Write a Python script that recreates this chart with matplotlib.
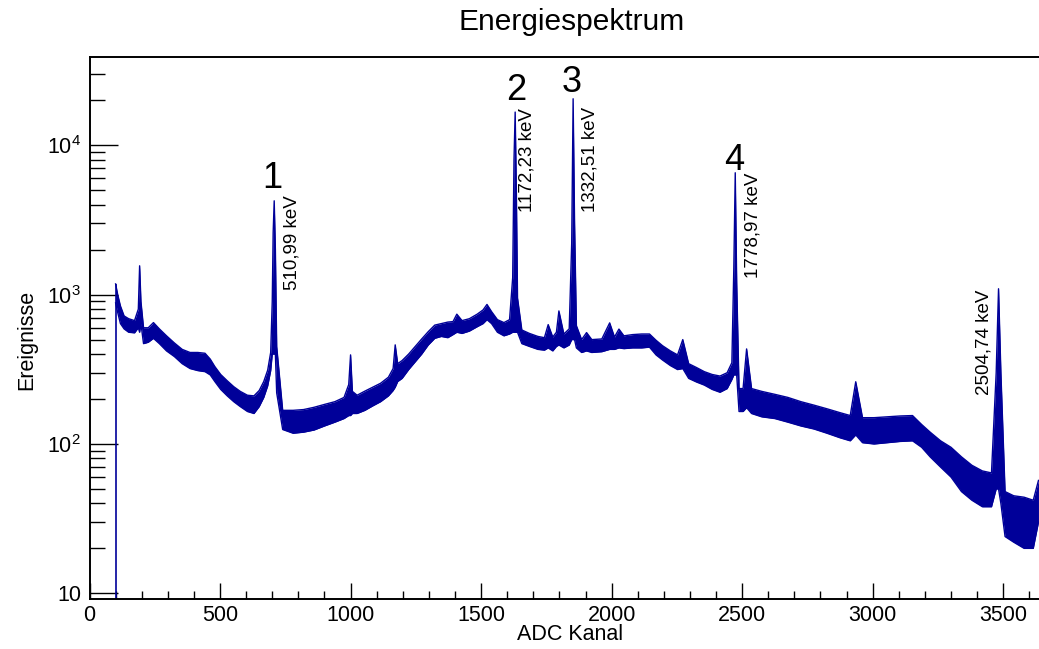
import numpy as np
import matplotlib
matplotlib.use("Agg")
import matplotlib.pyplot as plt
from matplotlib.ticker import MultipleLocator, LogLocator, FuncFormatter

plt.rcParams['font.family'] = ['Liberation Sans', 'DejaVu Sans']
plt.rcParams['mathtext.fontset'] = 'custom'
plt.rcParams['mathtext.rm'] = 'Liberation Sans'
plt.rcParams['mathtext.it'] = 'Liberation Sans:italic'
plt.rcParams['mathtext.default'] = 'regular'

# Kanalgrenzen (linke Kante jedes Bins, letzte = rechte Kante); unter Kanal 100 leer
kanal_kanten = [100, 104, 112, 125, 140, 160, 185, 189, 195, 199, 215, 235, 255, 280,
                310, 340, 370, 400, 430, 455, 470, 490, 515, 540, 565, 590, 620, 640,
                660, 675, 690, 698, 702, 705, 710, 714, 720, 760, 800, 840, 880, 920,
                960, 990, 996, 1004, 1010, 1040, 1070, 1100, 1130, 1160, 1166, 1176,
                1185, 1210, 1235, 1260, 1285, 1310, 1335, 1360, 1385, 1400, 1414, 1440,
                1470, 1500, 1515, 1530, 1550, 1575, 1600, 1618, 1624, 1628, 1633, 1637,
                1642, 1670, 1700, 1735, 1750, 1764, 1785, 1792, 1804, 1830, 1845, 1849,
                1856, 1860, 1870, 1900, 1908, 1940, 1985, 2000, 2022, 2034, 2060, 2100,
                2130, 2160, 2180, 2210, 2240, 2265, 2280, 2310, 2340, 2370, 2400, 2430,
                2455, 2466, 2470, 2477, 2481, 2495, 2512, 2522, 2550, 2600, 2650, 2700,
                2750, 2800, 2850, 2900, 2928, 2942, 2980, 3030, 3080, 3130, 3175, 3200,
                3240, 3280, 3320, 3360, 3400, 3440, 3470, 3476, 3488, 3494, 3520, 3560,
                3600, 3630, 3640]

# untere / obere Grenze des verrauschten Spektrums je Bin (Ereignisse)
ereignisse_min = [880, 760, 640, 590, 560, 555, 600, 560, 640, 470, 480, 510, 470, 420,
                  385, 345, 320, 310, 305, 290, 262, 232, 210, 192, 178, 165, 160, 178,
                  205, 245, 310, 400, 400, 400, 400, 220, 125, 118, 120, 124, 132, 140,
                  148, 155, 155, 160, 160, 168, 180, 192, 210, 228, 240, 262,
                  275, 315, 355, 400, 460, 510, 525, 515, 540, 560, 550, 570,
                  610, 640, 680, 640, 560, 530, 545, 560, 560, 560, 560, 560,
                  470, 450, 430, 425, 440, 420, 450, 460, 440, 460, 500, 500,
                  500, 440, 410, 420, 410, 415, 430, 430, 440, 435, 440, 440,
                  445, 395, 365, 335, 315, 320, 275, 260, 248, 232, 222, 235,
                  270, 290, 290, 290, 165, 165, 175, 160, 152, 148, 140, 132,
                  126, 118, 110, 105, 115, 102, 100, 102, 104, 105, 95, 82,
                  70, 60, 48, 42, 38, 38, 50, 50, 40, 24, 22, 20,
                  20, 30]
ereignisse_max = [1180, 1000, 840, 720, 690, 670, 800, 1560, 900, 600, 600, 650, 590, 530,
                  475, 430, 410, 410, 405, 370, 330, 292, 265, 242, 225, 212, 210, 228,
                  262, 312, 410, 900, 2600, 4250, 2000, 450, 168, 168, 170, 176, 184, 192,
                  205, 250, 395, 225, 212, 226, 240, 255, 280, 320, 461, 345,
                  362, 400, 450, 505, 565, 625, 640, 655, 660, 740, 670, 690,
                  740, 790, 860, 770, 680, 650, 680, 1300, 8000, 16700, 5000, 950,
                  580, 550, 525, 515, 630, 520, 560, 778, 545, 590, 2200, 20500,
                  3000, 620, 500, 557, 500, 505, 647, 520, 588, 530, 540, 545,
                  545, 495, 455, 420, 395, 500, 345, 325, 305, 292, 285, 300,
                  350, 1500, 6550, 1200, 235, 235, 433, 235, 225, 215, 205, 192,
                  182, 172, 162, 155, 261, 150, 150, 152, 154, 155, 135, 120,
                  105, 95, 82, 72, 66, 64, 300, 1095, 300, 48, 45, 44,
                  42, 57]

# Beschriftung der Peaks
peak_nummern = ['1', '2', '3', '4']
nummer_pos = [(701, 5190), (1633.5, 20170), (1848, 22820), (2469, 6855)]
energie_texte = ['510,99 keV', '1172,23 keV', '1332,51 keV', '1778,97 keV', '2504,74 keV']
energie_pos = [(777.5, 1077), (1675.7, 3586), (1917, 3586), (2543, 1296), (3428, 213)]

farbe = '#000099'
y_unten, y_oben = 9.16, 39030

kanten = np.array(kanal_kanten, dtype=float)
lo = np.array(ereignisse_min, dtype=float)
hi = np.array(ereignisse_max, dtype=float)
mitten = 0.5 * (kanten[:-1] + kanten[1:])
# erster Punkt an der Kante, wo das Spektrum einsetzt
mitten[0] = kanten[0]

fig = plt.figure(figsize=(10.39, 6.49), dpi=100)
ax = fig.add_axes([89.5 / 1039, 50 / 649, 949.5 / 1039, 542 / 649])
ax.set_yscale('log')

ax.fill_between(mitten, lo, hi, color=farbe, linewidth=0)
ax.plot(mitten, hi, color=farbe, linewidth=1.0)
ax.plot(mitten, lo, color=farbe, linewidth=1.0)
# leere Kanaele unterhalb von Kanal 100 -> senkrechte Linie bis zur Achse
ax.vlines(kanten[0], y_unten, hi[0], color=farbe, linewidth=1.2)

ax.set_xlim(0, 3637)
ax.set_ylim(y_unten, y_oben)

for txt, (x, y) in zip(peak_nummern, nummer_pos):
    ax.text(x, y, txt, fontsize=26, ha='center', va='baseline')
for txt, (x, y) in zip(energie_texte, energie_pos):
    ax.text(x, y, txt, fontsize=13.5, rotation=90, ha='center', va='bottom')

ax.xaxis.set_major_locator(MultipleLocator(500))
ax.xaxis.set_minor_locator(MultipleLocator(100))
ax.yaxis.set_major_locator(LogLocator(base=10))
ax.yaxis.set_minor_locator(LogLocator(base=10, subs=np.arange(2, 10)))


def log_label(v, pos):
    n = int(round(np.log10(v)))
    if n == 1:
        return '10'
    return r'$10^{%d}$' % n


ax.yaxis.set_major_formatter(FuncFormatter(log_label))
ax.yaxis.set_minor_formatter(FuncFormatter(lambda v, p: ''))

ax.tick_params(axis='both', which='both', direction='in', width=1.0, labelsize=15.5,
               top=False, right=False)
ax.tick_params(axis='x', which='major', length=11.5, pad=4)
ax.tick_params(axis='x', which='minor', length=5.8)
ax.tick_params(axis='y', which='major', length=20, pad=6)
ax.tick_params(axis='y', which='minor', length=10.8)

for s in ['left', 'bottom', 'top']:
    ax.spines[s].set_linewidth(1.4)
ax.spines['right'].set_visible(False)

fig.text(572 / 1039, 1 - 22 / 649, 'Energiespektrum', fontsize=21.5, ha='center', va='center')
fig.text(570 / 1039, 1 - 634 / 649, 'ADC Kanal', fontsize=15.5, ha='center', va='center')
fig.text(27 / 1039, 1 - 340 / 649, 'Ereignisse', fontsize=15.5, ha='center', va='center',
         rotation=90)

fig.savefig('out.png', dpi=100)
